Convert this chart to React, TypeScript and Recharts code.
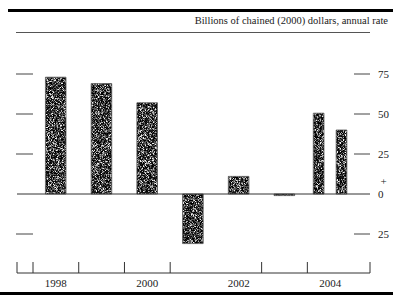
import { Bar, BarChart, ReferenceLine, Rectangle, XAxis, YAxis } from "recharts";

// annual values, billions of chained (2000) dollars
const years = [1998, 1999, 2000, 2001, 2002, 2003];
const annualValues = [73, 69, 57, -31, 11, -1];
// 2004 is shown as two half-year bars
const halfPeriods = [2003.75, 2004.25];
const halfValues = [50.5, 40];

const yearLabels = [1998, 2000, 2002, 2004];
const xDomain = [1997.15, 2004.87];
const yearBoundaries = [1997.5, 1998.5, 1999.5, 2000.5, 2002.5, 2003.5];
const leftTicks = [-25, 25, 50, 75];
const rightTicks = [-25, 0, 25, 50, 75];
const yDomain = [-49.375, 95];
const subtitle = "Billions of chained (2000) dollars, annual rate";

const data = [
  ...years.map((p, i) => ({ period: p, value: annualValues[i], half: false })),
  ...halfPeriods.map((p, i) => ({ period: p, value: halfValues[i], half: true })),
];

const xTicks = [xDomain[0], ...yearBoundaries, ...yearLabels, xDomain[1]].sort((a, b) => a - b);

const FONT = "'Liberation Serif', 'Times New Roman', serif";
const INK = "#1a1a1a";

const GrainBar = (props: any) => {
  const { x, y, width, height, payload } = props;
  const w = payload.half ? width * 0.52 : width;
  const nx = x + (width - w) / 2;
  return (
    <g>
      <Rectangle x={nx} y={y} width={w} height={height} fill="#000" filter="url(#grain)" />
      <Rectangle x={nx} y={y} width={w} height={height} fill="none" stroke="#555" strokeWidth={0.8} />
    </g>
  );
};

const XTick = (props: any) => {
  const { x, y, payload } = props;
  const v = payload.value;
  if (yearLabels.includes(v)) {
    return (
      <text x={x} y={y + 14} textAnchor="middle" fontSize={11} fontFamily={FONT} fill={INK}>
        {v}
      </text>
    );
  }
  return <line x1={x} x2={x} y1={y} y2={y - 11} stroke="#333" strokeWidth={1} />;
};

const LeftTick = (props: any) => {
  const { x, y } = props;
  return <line x1={x - 1} x2={x + 16} y1={y} y2={y} stroke="#444" strokeWidth={1} />;
};

const RightTick = (props: any) => {
  const { x, y, payload } = props;
  const v = payload.value;
  return (
    <g>
      {v !== 0 && <line x1={x - 24} x2={x - 8} y1={y} y2={y} stroke="#444" strokeWidth={1} />}
      {v === 0 && (
        <text x={x + 2.5} y={y - 9} fontSize={11} fontFamily={FONT} fill={INK}>
          +
        </text>
      )}
      <text x={x} y={y + 4} fontSize={11} fontFamily={FONT} fill={INK}>
        {Math.abs(v)}
      </text>
    </g>
  );
};

export default function App() {
  return (
    <div style={{ position: "absolute", left: 0, top: 0, width: 393, height: 295, background: "#fff" }}>
      <svg width={0} height={0} style={{ position: "absolute" }}>
        <defs>
          <filter id="grain" x="0" y="0" width="1" height="1" colorInterpolationFilters="sRGB">
            <feTurbulence type="fractalNoise" baseFrequency="1.4" numOctaves={2} seed={4} result="noise" />
            <feColorMatrix
              in="noise"
              type="matrix"
              values="1 0 0 0 0  1 0 0 0 0  1 0 0 0 0  0 0 0 0 1"
              result="gray"
            />
            <feComponentTransfer in="gray" result="bw">
              <feFuncR type="discrete" tableValues="0 0 0 0 0.1 0.35 0.7 0.95 1 1" />
              <feFuncG type="discrete" tableValues="0 0 0 0 0.1 0.35 0.7 0.95 1 1" />
              <feFuncB type="discrete" tableValues="0 0 0 0 0.1 0.35 0.7 0.95 1 1" />
            </feComponentTransfer>
            <feComposite in="bw" in2="SourceGraphic" operator="in" />
          </filter>
        </defs>
      </svg>
      <div style={{ position: "absolute", left: 8, top: 9, width: 385, height: 3, background: "#000" }} />
      <div
        style={{
          position: "absolute",
          right: 5,
          top: 15,
          fontFamily: FONT,
          fontSize: 10.5,
          color: INK,
          whiteSpace: "nowrap",
        }}
      >
        {subtitle}
      </div>
      <div style={{ position: "absolute", left: 16, top: 32, width: 354, height: 1, background: "#555" }} />
      <div style={{ position: "absolute", left: 0, top: 292, width: 393, height: 3, background: "#000" }} />
      <div style={{ position: "absolute", left: 0, top: 0 }}>
        <BarChart width={393} height={295} data={data} margin={{ top: 42, right: 0, bottom: 0, left: 0 }}>
          <XAxis
            dataKey="period"
            type="number"
            domain={xDomain}
            allowDataOverflow
            ticks={xTicks}
            interval={0}
            height={22}
            tickSize={0}
            tickMargin={0}
            tickLine={false}
            tick={<XTick />}
            axisLine={{ stroke: "#333", strokeWidth: 1 }}
          />
          <YAxis
            yAxisId="left"
            orientation="left"
            width={17}
            domain={yDomain}
            allowDataOverflow
            ticks={leftTicks}
            interval={0}
            tickSize={0}
            tickMargin={0}
            tickLine={false}
            axisLine={false}
            tick={<LeftTick />}
          />
          <YAxis
            yAxisId="right"
            orientation="right"
            width={23}
            domain={yDomain}
            allowDataOverflow
            ticks={rightTicks}
            interval={0}
            tickSize={0}
            tickMargin={8}
            tickLine={false}
            axisLine={false}
            tick={<RightTick />}
          />
          <ReferenceLine yAxisId="right" y={0} stroke="#333" strokeWidth={1} />
          <Bar yAxisId="right" dataKey="value" barSize={23} shape={<GrainBar />} isAnimationActive={false} />
        </BarChart>
      </div>
    </div>
  );
}
